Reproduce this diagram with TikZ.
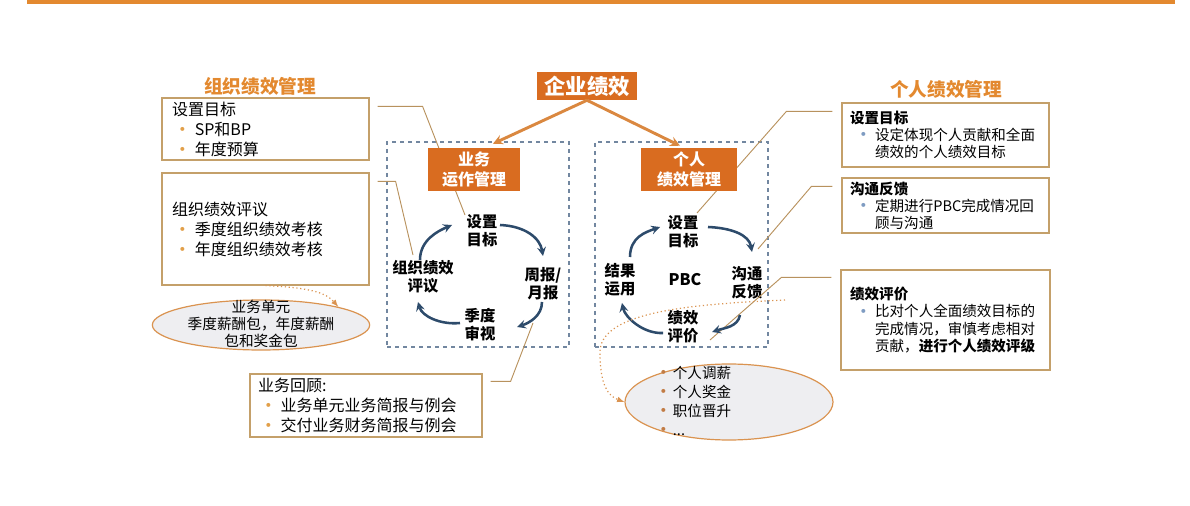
\documentclass[tikz,border=0pt]{standalone}
\usepackage{fontspec}
\setmainfont{Noto Sans CJK SC}
\usepackage{xcolor}
\usetikzlibrary{shapes.geometric}
\usetikzlibrary{positioning}
\usetikzlibrary{arrows,calc}
\usetikzlibrary{fit}

\definecolor{hdorange}{HTML}{E3892F}
\definecolor{boxorange}{HTML}{D96C20}
\definecolor{linkorange}{HTML}{DA8840}
\definecolor{boxline}{HTML}{C4A06A}
\definecolor{zoneline}{HTML}{7287A0}
\definecolor{cycblue}{HTML}{2D4B6B}
\definecolor{potfill}{HTML}{EEEEF1}
\definecolor{potline}{HTML}{DA9350}
\definecolor{dotleft}{HTML}{E2A04A}
\definecolor{dotright}{HTML}{7F9CC2}
\definecolor{calloutc}{HTML}{B8925E}
\definecolor{dotbrown}{HTML}{C27C45}

\newcommand{\lbul}{\makebox[17pt][l]{\hspace{1pt}\raisebox{-1pt}[0pt][0pt]{\textcolor{dotleft}{\fontsize{14}{14}\selectfont\textbullet}}}}
\newcommand{\rbul}{\makebox[18.75pt][l]{\hspace{3.5pt}\raisebox{-1pt}[0pt][0pt]{\textcolor{dotright}{\fontsize{14}{13}\selectfont\textbullet}}}}
\newcommand{\pbul}{\raisebox{-1pt}[0pt][0pt]{\textcolor{dotbrown}{\fontsize{14}{13}\selectfont\textbullet}}}

\begin{document}
\begin{tikzpicture}[x=0.75pt, y=-0.75pt,
  >=stealth,
  infobox/.style={draw=boxline, line width=0.9pt, fill=white, inner sep=0pt, text width=#1, align=left, font=\fontsize{12}{15}\selectfont},
  pbox/.style={draw=boxline, line width=0.9pt, fill=white, inner sep=0pt, text width=143pt, align=left, font=\fontsize{10.9}{12.8}\selectfont},
  headline/.style={text=hdorange, font=\bfseries\fontsize{14}{16}\selectfont},
  topbox/.style={fill=boxorange, text=white, inner sep=0pt, align=center, font=\bfseries\fontsize{12}{15}\selectfont},
  zone/.style={draw=zoneline, dashed, line width=0.9pt, inner sep=0pt},
  cyclabel/.style={align=center, inner sep=1pt, font=\bfseries\fontsize{11.5}{13.5}\selectfont},
  cyc/.style={->, draw=cycblue, line width=1.9pt},
  callout/.style={draw=calloutc, line width=0.7pt},
  link/.style={->, draw=linkorange, line width=2.2pt},
  dotlink/.style={-latex, draw=potline, dotted, line width=0.9pt},
  pot/.style={ellipse, draw=potline, fill=potfill, line width=0.9pt, inner sep=0pt},
  pottext/.style={inner sep=0pt, font=\fontsize{11}{13}\selectfont},
]
\useasboundingbox (0,0) rectangle (1190,506);
\draw[draw=hdorange, line width=3pt] (27,2) -- (1175,2);

% organisation side
\node[headline] (orgTitle) at (260,86) {组织绩效管理};
\node[infobox=140pt, minimum width=155.25pt, minimum height=46.5pt] (orgSet) at (265.5,129) {设置目标\\ \lbul SP和BP\\ \lbul 年度预算};
\node[infobox=140pt, minimum width=155.25pt, minimum height=84pt] (orgReview) at (265.5,229) {组织绩效评议\\ \lbul 季度组织绩效考核\\ \lbul 年度组织绩效考核};
\node[pot, minimum width=163pt, minimum height=37.5pt] (buPot) at (261,325) {};
\node[pottext, align=center] (buText) at (261,324) {业务单元\\季度薪酬包，年度薪酬\\包和奖金包};
\node[infobox=162pt, minimum width=174pt, minimum height=47.25pt] (bizReview) at (366,405.5) {业务回顾:\\ \lbul 业务单元业务简报与例会\\ \lbul 交付业务财务简报与例会};

% middle
\node[topbox, font=\bfseries\fontsize{16}{18}\selectfont, minimum width=75pt, minimum height=21pt] (corp) at (587,86) {企业绩效};
\node[zone, fit={(387,142) (569,347)}] (bizZone) {};
\node[zone, fit={(595,142) (768,347)}] (pZone) {};

\node[cyclabel] (lset) at (482,231) {设置\\目标};
\node[cyclabel] (lweek) at (543,284) {周报/\\月报};
\node[cyclabel] (lquart) at (480,325) {季度\\审视};
\node[cyclabel] (leval) at (423,277) {组织绩效\\评议};

\node[cyclabel] (rset) at (683,232) {设置\\目标};
\node[cyclabel] (rfeed) at (747,283) {沟通\\反馈};
\node[cyclabel] (reval) at (683,327) {绩效\\评价};
\node[cyclabel] (ruse) at (620,280) {结果\\运用};
\node[cyclabel, font=\bfseries\fontsize{12}{14}\selectfont] (pbc) at (685,280) {PBC};

% person side
\node[headline] (pTitle) at (946,89) {个人绩效管理};
\node[pbox, minimum width=155.25pt, minimum height=48pt] (pSet) at (945.5,135) {\textbf{设置目标}\\ \rbul 设定体现个人贡献和全面\\ \hspace*{18.75pt}绩效的个人绩效目标};
\node[pbox, minimum width=155.25pt, minimum height=41.25pt] (pFeed) at (945.5,205.5) {\textbf{沟通反馈}\\ \rbul 定期进行PBC完成情况回\\ \hspace*{18.75pt}顾与沟通};
\node[pbox, minimum width=156.75pt, minimum height=75pt] (pEval) at (945.5,320) {\textbf{绩效评价}\\ \rbul 比对个人全面绩效目标的\\ \hspace*{18.75pt}完成情况，审慎考虑相对\\ \hspace*{18.75pt}贡献，\textbf{进行个人绩效评级}};
\node[pot, minimum width=156pt, minimum height=57pt] (resultPot) at (729,402) {};
\node[pottext, align=left, anchor=west, font=\fontsize{10.9}{14.25}\selectfont] (resultText) at (654,401) {\pbul 个人调薪\\ \pbul 个人奖金\\ \pbul 职位晋升\\ \pbul ...};

% callouts
\draw[callout] ($(orgSet.north east)+(8,9)$) -- ++(45,0) -- ($(lset)+(-17,-16)$);
\draw[callout] ($(orgReview.north east)+(8,9)$) -- ++(18,0) -- ($(leval)+(-10,-22)$);
\draw[callout] ($(bizReview.north east)+(8,8)$) -- ++(20,0) -- ($(lweek)+(-10,39)$);
\draw[callout] ($(pSet.north west)+(-9,9)$) -- ++(-46,0) -- ($(rset)+(14,-19)$);
\draw[callout] ($(pFeed.north west)+(-9,9)$) -- ++(-21,0) -- ($(rfeed)+(11,-34)$);
\draw[callout] ($(pEval.north west)+(-9,8)$) -- ++(-50,0) -- ($(reval)+(27,13)$);

\node[topbox, minimum width=69pt, minimum height=32.25pt] (bizOps) at (474,169.5) {业务\\运作管理};
\node[topbox, minimum width=72pt, minimum height=32.25pt] (pMgmt) at (689,169.5) {个人\\绩效管理};

\draw[link] (corp.south) -- ($(bizOps.north)+(19,-4)$);
\draw[link] (corp.south) -- ($(pMgmt.north)+(-9,-2)$);

% cycles
\draw[cyc] ($(lset)+(18,-6)$) .. controls +(25,1) and +(-3,-18) .. ($(lweek)+(0,-28)$);
\draw[cyc] ($(lweek)+(-1,18)$) .. controls +(0,14) and +(12,-4) .. ($(lquart)+(37,2)$);
\draw[cyc] ($(lquart)+(-20,-2)$) .. controls +(-20,2) and +(4,14) .. ($(leval)+(-5,25)$);
\draw[cyc] ($(leval)+(-3,-17)$) .. controls +(0,-20) and +(-14,6) .. ($(lset)+(-30,-6)$);

\draw[cyc] ($(rset)+(25,-5)$) .. controls +(24,1) and +(-3,-17) .. ($(rfeed)+(5,-31)$);
\draw[cyc] ($(rfeed)+(-7,32)$) .. controls +(-2,12) and +(12,-4) .. ($(reval)+(29,5)$);
\draw[cyc] ($(reval)+(-20,6)$) .. controls +(-20,1) and +(3,14) .. ($(ruse)+(2,23)$);
\draw[cyc] ($(ruse)+(10,-23)$) .. controls +(0,-20) and +(-14,5) .. ($(rset)+(-23,-5)$);

% dotted links
\draw[dotlink] (orgReview.south) .. controls +(45,2) and +(-12,-14) .. (buPot.north east);
\coordinate (evalTail) at (785,300);
\draw[dotlink] (evalTail) .. controls (700,304) and (600,310) .. (600,352) .. controls (600,385) and (608,396) .. (resultPot.west);
\end{tikzpicture}
\end{document}
